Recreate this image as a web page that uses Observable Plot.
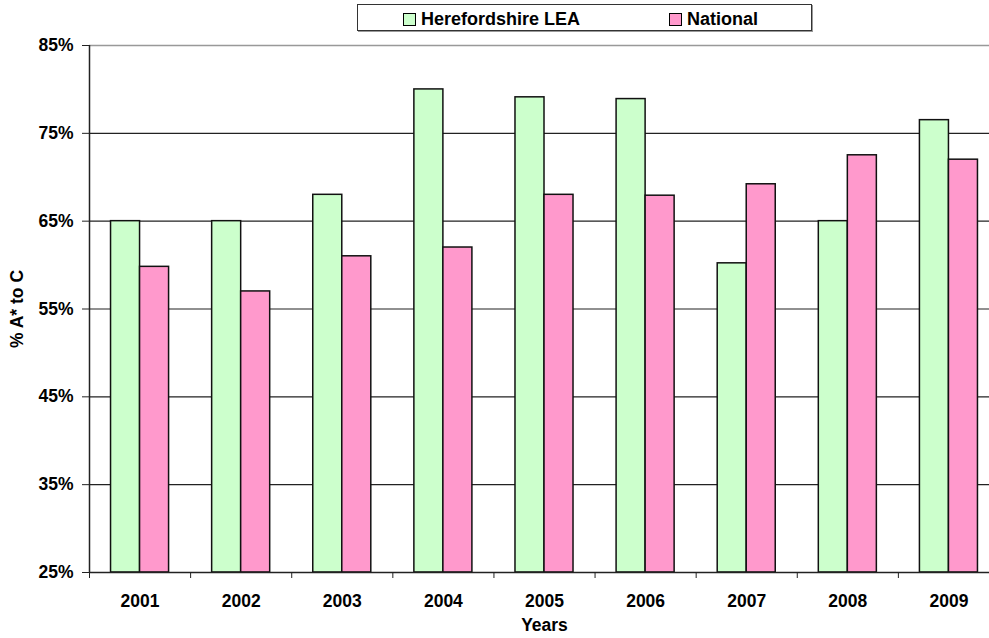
<!DOCTYPE html>
<html><head><meta charset="utf-8">
<script src="https://cdn.jsdelivr.net/npm/d3@7"></script>
<script src="https://cdn.jsdelivr.net/npm/@observablehq/plot@0.6"></script>
<style>
body{margin:0;background:#fff;font-family:"Liberation Sans",Arial,sans-serif;}
#wrap{position:relative;width:989px;height:638px;overflow:hidden;}
#chart{width:1000px;}
#chart svg{max-width:none !important;width:1000px;height:638px;}
#legend{position:absolute;left:357px;top:4px;width:453px;height:25px;border:1px solid #333;box-shadow:1px 1px 0 #999;font-weight:bold;font-size:18px;background:#fff;}
.item{position:absolute;top:2px;height:25px;display:flex;align-items:center;white-space:nowrap;color:#000;}
.sw{width:11px;height:11px;border:1px solid #000;margin-right:5px;}
</style></head>
<body><div id="wrap"><div id="chart"></div><div id="legend"></div></div>
<script>
const years = [2001, 2002, 2003, 2004, 2005, 2006, 2007, 2008, 2009];
const seriesNames = ["Herefordshire LEA", "National"];
const hereford = [65, 65, 68, 80, 79.1, 78.9, 60.2, 65, 76.5];
const national = [59.8, 57.0, 61.0, 62.0, 68.0, 67.9, 69.2, 72.5, 72.0];
const colors = ["#CCFFCC", "#FF99CC"];
const yTicks = [25, 35, 45, 55, 65, 75, 85];
const yLabel = "% A* to C";
const xLabel = "Years";

const data = years.flatMap((yr, i) => [
  {year: yr, series: seriesNames[0], value: hereford[i], k: 0},
  {year: yr, series: seriesNames[1], value: national[i], k: 1}
]);
const bw = 0.287;
const gap = (1 - 2 * bw) / 2;
const boundaries = years.map(y => y - 0.5);

const chart = Plot.plot({
  width: 1000,
  height: 638,
  marginLeft: 89,
  marginRight: 1,
  marginTop: 45,
  marginBottom: 66,
  style: {fontFamily: "'Liberation Sans', Arial, sans-serif", fontSize: "17.5px", fontWeight: "bold", color: "#000", background: "#fff", overflow: "visible", maxWidth: "none"},
  x: {domain: [2000.5, 2009.5], axis: null, label: null},
  y: {domain: [25, 85], axis: null, label: null},
  color: {domain: seriesNames, range: colors},
  marks: [
    Plot.ruleY(yTicks.filter(t => t > 25 && t < 85), {stroke: "#222", strokeWidth: 1.2}),
    Plot.ruleY([85], {stroke: "#999", strokeWidth: 1.5}),
    Plot.rectY(data, {
      x1: d => d.year - 0.5 + gap + d.k * bw,
      x2: d => d.year - 0.5 + gap + (d.k + 1) * bw,
      y1: 25, y2: "value", fill: "series", stroke: "#111", strokeWidth: 1.5
    }),
    Plot.ruleX([2000.5], {stroke: "#222", strokeWidth: 1.5}),
    Plot.ruleY([25], {stroke: "#222", strokeWidth: 1.5}),
    Plot.axisY(yTicks, {label: null, tickSize: 7, tickPadding: 9, tickFormat: d => d + "%", fontSize: 17.5, stroke: "#222"}),
    Plot.axisX(years, {label: null, tickSize: 0, tickPadding: 22, tickFormat: d => String(d), fontSize: 17.5}),
    Plot.axisX(boundaries, {label: null, tickSize: 6, tickFormat: () => "", stroke: "#222"}),
    Plot.text([xLabel], {text: d => d, frameAnchor: "bottom", dy: 53, lineAnchor: "middle", fontSize: 17.5}),
    Plot.text([yLabel], {text: d => d, frameAnchor: "left", dx: -72, rotate: -90, lineAnchor: "middle", textAnchor: "middle", fontSize: 17.5})
  ]
});
document.getElementById("chart").appendChild(chart);

const legend = document.getElementById("legend");
const lefts = [45, 311];
seriesNames.forEach((name, i) => {
  const it = document.createElement("div");
  it.className = "item";
  it.style.left = lefts[i] + "px";
  const sw = document.createElement("span");
  sw.className = "sw";
  sw.style.background = colors[i];
  it.appendChild(sw);
  it.appendChild(document.createTextNode(name));
  legend.appendChild(it);
});
</script>
</body></html>
